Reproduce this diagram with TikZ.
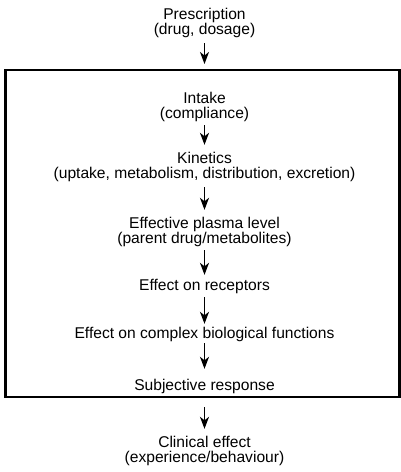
\documentclass[tikz,border=0pt]{standalone}
\usepackage{fontspec}
\setmainfont{Liberation Sans}
\usetikzlibrary{arrows.meta}
\begin{document}
\begin{tikzpicture}[x=1pt,y=-1pt,
  lbl/.style={align=center,inner sep=0pt,font=\fontsize{15.6}{15}\selectfont},
  arr/.style={-{Stealth[length=12pt,width=9pt,inset=3.5pt]},line width=1.5pt}]
\useasboundingbox (0,0) rectangle (401,472);
\draw[line width=2.8pt] (5.3,70) rectangle (399.8,397);
\coordinate (btop) at (204.5,70);
\coordinate (bbot) at (204.5,397);
\node[lbl] (pres) at (204.5,23.3) {Prescription\\(drug, dosage)};
\node[lbl] (intake) at (204.5,106.5) {Intake\\(compliance)};
\node[lbl] (kin) at (204.5,166.5) {Kinetics\\(uptake, metabolism, distribution, excretion)};
\node[lbl] (plas) at (204.5,231.5) {Effective plasma level\\(parent drug/metabolites)};
\node[lbl] (rec) at (204.5,286) {Effect on receptors};
\node[lbl] (cplx) at (204.5,334) {Effect on complex biological functions};
\node[lbl] (subj) at (204.5,386) {Subjective response};
\node[lbl] (clin) at (204.5,450.5) {Clinical effect\\(experience/behaviour)};
\draw[arr,shorten <=5pt,shorten >=6pt] (pres) -- (btop);
\draw[arr,shorten <=3.7pt,shorten >=6.7pt] (intake) -- (kin);
\draw[arr,shorten <=5.7pt,shorten >=6.7pt] (kin) -- (plas);
\draw[arr,shorten <=3.7pt,shorten >=3.7pt] (plas) -- (rec);
\draw[arr,shorten <=3.7pt,shorten >=2.7pt] (rec) -- (cplx);
\draw[arr,shorten <=1.7pt,shorten >=9.7pt] (cplx) -- (subj);
\draw[arr,shorten <=10pt,shorten >=6.7pt] (bbot) -- (clin);
\end{tikzpicture}
\end{document}
